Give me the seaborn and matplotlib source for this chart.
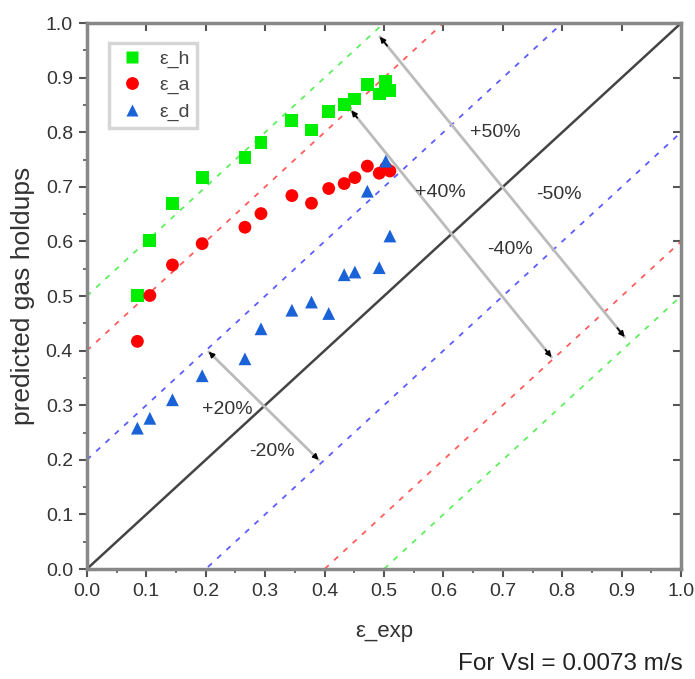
import numpy as np
import pandas as pd
import matplotlib
matplotlib.use("Agg")
import matplotlib.pyplot as plt
import seaborn as sns

# ---- data ----
eps_exp = [0.085, 0.106, 0.144, 0.194, 0.266, 0.293, 0.345, 0.378, 0.407,
           0.433, 0.451, 0.472, 0.492, 0.503, 0.510]
eps_h = [0.501, 0.602, 0.670, 0.717, 0.754, 0.781, 0.822, 0.804, 0.838,
         0.851, 0.861, 0.887, 0.870, 0.893, 0.877]
eps_a = [0.417, 0.501, 0.557, 0.596, 0.626, 0.651, 0.684, 0.670, 0.697,
         0.706, 0.717, 0.738, 0.725, 0.735, 0.729]
eps_d = [0.258, 0.276, 0.310, 0.354, 0.385, 0.440, 0.474, 0.489, 0.468,
         0.539, 0.544, 0.692, 0.552, 0.747, 0.610]
series_names = ["ε_h", "ε_a", "ε_d"]
offsets = [0.5, 0.4, 0.2]
offset_colors = ["#5def5d", "#ff5c5c", "#5c5cff"]
ticks = [0.0, 0.1, 0.2, 0.3, 0.4, 0.5, 0.6, 0.7, 0.8, 0.9, 1.0]

df = pd.DataFrame({
    "x": eps_exp * 3,
    "y": eps_h + eps_a + eps_d,
    "series": [series_names[0]] * len(eps_exp) + [series_names[1]] * len(eps_exp)
              + [series_names[2]] * len(eps_exp),
})

sns.set_style("white")
plt.rcParams["font.family"] = ["Liberation Sans", "DejaVu Sans"]

fig = plt.figure(figsize=(6.95, 6.79), dpi=100)
ax = fig.add_axes([0.125, 0.162, 0.855, 0.804])

# error band lines
for off, col in zip(offsets, offset_colors):
    xs = np.array([0.0, 1.0])
    ax.plot(xs, xs + off, ls=(0, (3, 4)), color=col, lw=1.3, zorder=1)
    ax.plot(xs, xs - off, ls=(0, (3, 4)), color=col, lw=1.3, zorder=1)
ax.plot([0, 1], [0, 1], color="#444444", lw=1.8, zorder=1)

# annotation lines (gray with black arrowheads)
arrows = [((0.205, 0.398), (0.39, 0.2)),
          ((0.445, 0.84), (0.782, 0.388)),
          ((0.493, 0.975), (0.905, 0.425))]
for (x0, y0), (x1, y1) in arrows:
    ax.plot([x0, x1], [y0, y1], color="#bbbbbb", lw=2.0, zorder=2)
    dx, dy = x1 - x0, y1 - y0
    for (sx, sy), (ex, ey) in [(((x0 + 0.03 * dx), (y0 + 0.03 * dy)), (x0, y0)),
                               (((x1 - 0.03 * dx), (y1 - 0.03 * dy)), (x1, y1))]:
        ax.annotate("", xy=(ex, ey), xytext=(sx, sy),
                    arrowprops=dict(arrowstyle="-|>", color="black", lw=1.2,
                                    mutation_scale=8, shrinkA=0, shrinkB=0),
                    zorder=3)

labels = [("+50%", 0.687, 0.80), ("-50%", 0.795, 0.686), ("+40%", 0.595, 0.69),
          ("-40%", 0.712, 0.585), ("+20%", 0.237, 0.292), ("-20%", 0.311, 0.215)]
for t, lx, ly in labels:
    ax.text(lx, ly, t, ha="center", va="center", fontsize=14, color="#333333", zorder=4)

sns.scatterplot(data=df, x="x", y="y", hue="series", style="series",
                palette=["#00ee00", "#ff0000", "#1a62d8"],
                markers=["s", "o", "^"], s=85, edgecolor="none", ax=ax, zorder=5)

ax.set_xlim(0, 1)
ax.set_ylim(0, 1)
ax.set_xticks(ticks)
ax.set_yticks(ticks)
ax.set_xticklabels([f"{t:.1f}" for t in ticks])
ax.set_yticklabels([f"{t:.1f}" for t in ticks])
ax.set_xticks(np.arange(0.05, 1.0, 0.1), minor=True)
ax.set_yticks(np.arange(0.05, 1.0, 0.1), minor=True)
ax.tick_params(which="both", direction="out", color="#555555", labelsize=14,
               labelcolor="#333333", bottom=True, left=True, top=False, right=False)
ax.tick_params(which="major", length=6, width=1.5, pad=4)
ax.tick_params(which="minor", length=3, width=1.2)
for sp in ax.spines.values():
    sp.set_color("#888888")
    sp.set_linewidth(2.5)

# inward major ticks on top and right
sec_x = ax.secondary_xaxis("top")
sec_x.set_xticks(ticks)
sec_x.tick_params(direction="in", length=6, width=1.5, color="#555555",
                  top=True, labeltop=False)
sec_x.spines["top"].set_visible(False)
sec_y = ax.secondary_yaxis("right")
sec_y.set_yticks(ticks)
sec_y.tick_params(direction="in", length=6, width=1.5, color="#555555",
                  right=True, labelright=False)
sec_y.spines["right"].set_visible(False)

ax.set_xlabel("ε_exp", fontsize=16, color="#333333")
ax.xaxis.set_label_coords(0.5, -0.095)
ax.set_ylabel("predicted gas holdups", fontsize=19, color="#333333")
ax.yaxis.set_label_coords(-0.088, 0.5)

leg = ax.legend(loc="upper left", bbox_to_anchor=(0.037, 0.963), frameon=True,
                fancybox=False, fontsize=14, markerscale=1.0, handletextpad=0.55,
                borderpad=0.35, labelspacing=0.45, handlelength=1.7,
                borderaxespad=0)
leg.get_frame().set_edgecolor("#cccccc")
leg.get_frame().set_linewidth(2.5)
for t in leg.get_texts():
    t.set_color("#444444")

fig.text(0.983, 0.006, "For Vsl = 0.0073 m/s", ha="right", va="bottom",
         fontsize=17.5, color="#222222")

fig.savefig("out.png", dpi=100)
